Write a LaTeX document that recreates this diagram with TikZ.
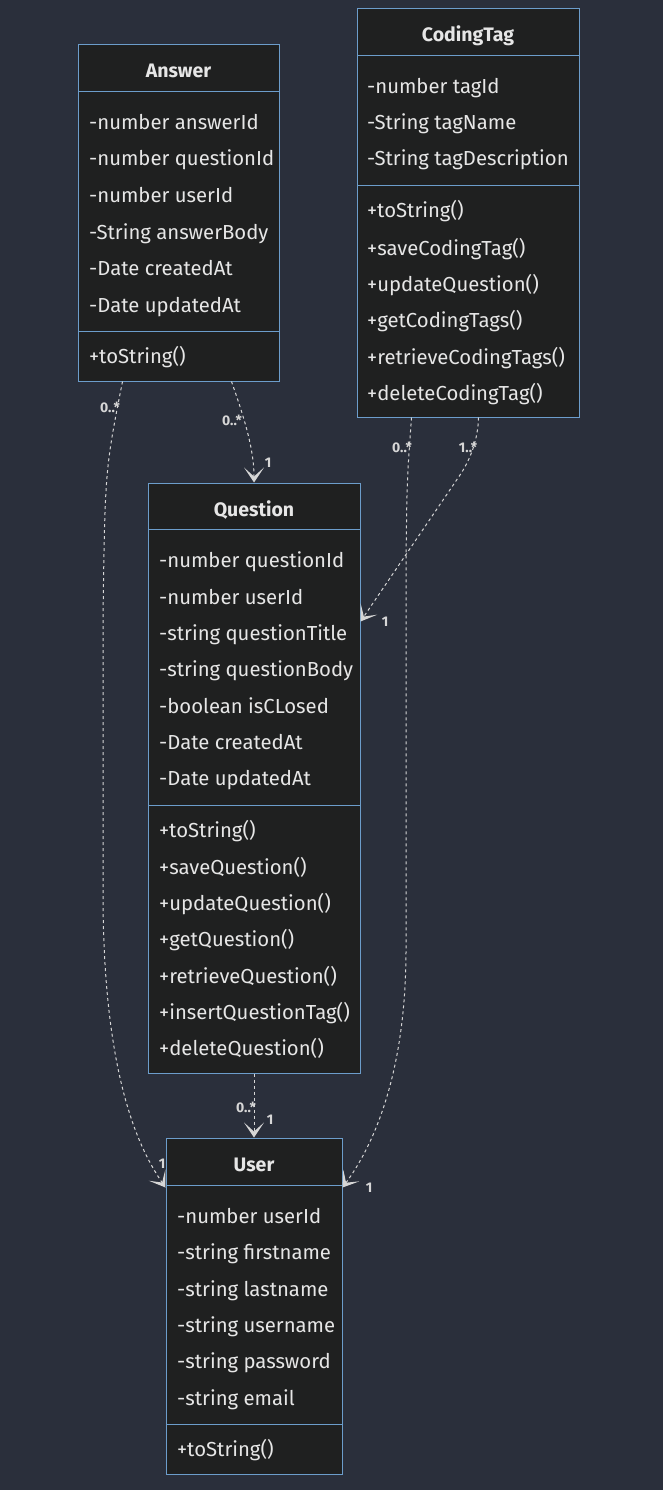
\documentclass[tikz,border=0pt]{standalone}
\usepackage{fontspec}
\setmainfont{Fira Sans}
\usetikzlibrary{arrows.meta}
\definecolor{bg}{HTML}{2A2F3B}
\definecolor{boxfill}{HTML}{1F2020}
\definecolor{boxline}{HTML}{6C9DCB}
\definecolor{txt}{HTML}{E6E6E6}
\definecolor{lnk}{HTML}{D6D6D6}
\tikzset{
  classbox/.style={draw=boxline, fill=boxfill, line width=1pt, rectangle, inner sep=0pt},
  divider/.style={draw=boxline, line width=1pt},
  title/.style={text=txt, font=\fontsize{19.5pt}{22pt}\selectfont\bfseries, anchor=center, inner sep=0pt, text height=14pt, text depth=0pt},
  member/.style={text=txt, font=\fontsize{20.3pt}{23pt}\selectfont, anchor=west, inner sep=0pt, text height=14pt, text depth=0pt},
  mult/.style={text=lnk, font=\fontsize{14pt}{16pt}\selectfont\bfseries, inner sep=0pt},
  link/.style={draw=lnk, line width=1pt, dash pattern=on 3pt off 3pt, -{Stealth[length=15pt,width=20pt,inset=9pt,line width=0pt]}}
}
\begin{document}
\begin{tikzpicture}[x=1pt,y=-1pt]
\useasboundingbox[fill=bg] (0,0) rectangle (663,1490);
% ---------- Answer ----------
\node[classbox, minimum width=201pt, minimum height=336pt] (answer) at (178.5,213) {};
\draw[divider] (78,92) -- (279,92);
\draw[divider] (78,331) -- (279,331);
\node[title] (answerT) at (178.5,71) {Answer};
\node[member] (a1) at (89,123) {-number answerId};
\node[member] (a2) at (89,159) {-number questionId};
\node[member] (a3) at (89,196) {-number userId};
\node[member] (a4) at (89,232) {-String answerBody};
\node[member] (a5) at (89,268) {-Date createdAt};
\node[member] (a6) at (89,305) {-Date updatedAt};
\node[member] (a7) at (89,356) {+toString()};
% ---------- CodingTag ----------
\node[classbox, minimum width=222pt, minimum height=408pt] (coding) at (468,213) {};
\draw[divider] (357,56) -- (579,56);
\draw[divider] (357,186) -- (579,186);
\node[title] (codingT) at (468,35) {CodingTag};
\node[member] (c1) at (367,87) {-number tagId};
\node[member] (c2) at (367,123) {-String tagName};
\node[member] (c3) at (367,159) {-String tagDescription};
\node[member] (c4) at (367,211) {+toString()};
\node[member] (c5) at (367,248) {+saveCodingTag()};
\node[member] (c6) at (367,284) {+updateQuestion()};
\node[member] (c7) at (367,320) {+getCodingTags()};
\node[member] (c8) at (367,357) {+retrieveCodingTags()};
\node[member] (c9) at (367,393) {+deleteCodingTag()};
% ---------- Question ----------
\node[classbox, minimum width=212pt, minimum height=590pt] (question) at (254,778) {};
\draw[divider] (148,529) -- (360,529);
\draw[divider] (148,805) -- (360,805);
\node[title] (questionT) at (254,509) {Question};
\node[member] (q1) at (159,560) {-number questionId};
\node[member] (q2) at (159,597) {-number userId};
\node[member] (q3) at (159,633) {-string questionTitle};
\node[member] (q4) at (159,669) {-string questionBody};
\node[member] (q5) at (159,706) {-boolean isCLosed};
\node[member] (q6) at (159,742) {-Date createdAt};
\node[member] (q7) at (159,778) {-Date updatedAt};
\node[member] (q8) at (159,830) {+toString()};
\node[member] (q9) at (159,867) {+saveQuestion()};
\node[member] (q10) at (159,903) {+updateQuestion()};
\node[member] (q11) at (159,939) {+getQuestion()};
\node[member] (q12) at (159,976) {+retrieveQuestion()};
\node[member] (q13) at (159,1012) {+insertQuestionTag()};
\node[member] (q14) at (159,1048) {+deleteQuestion()};
% ---------- User ----------
\node[mult] (m9) at (162,1164) {1};
\node[classbox, minimum width=176pt, minimum height=336pt] (user) at (254,1306) {};
\draw[divider] (166,1185) -- (342,1185);
\draw[divider] (166,1424) -- (342,1424);
\node[title] (userT) at (254,1164) {User};
\node[member] (u1) at (177,1216) {-number userId};
\node[member] (u2) at (177,1252) {-string firstname};
\node[member] (u3) at (177,1289) {-string lastname};
\node[member] (u4) at (177,1325) {-string username};
\node[member] (u5) at (177,1361) {-string password};
\node[member] (u6) at (177,1398) {-string email};
\node[member] (u7) at (177,1449) {+toString()};
% ---------- Connectors ----------
\draw[link] ([xshift=45pt]answer.south west) .. controls (105,470) .. (103,620) -- (103,900)
  .. controls (104,1080) and (140,1150) .. ([yshift=-50pt]user.north west);
\draw[link] ([xshift=154pt]answer.south west) .. controls (245,420) and (254,450) .. (question.north);
\draw[link] ([xshift=55pt]coding.south west) .. controls (407,480) .. (406,560) -- (406,950)
  .. controls (406,1080) and (370,1150) .. ([yshift=-50pt]user.north east);
\draw[link] ([xshift=122pt]coding.south west) .. controls (478,440) and (470,460) .. (460,475)
  -- ([yshift=-139pt]question.north east);
\draw[link] (question.south) -- (user.north);
% ---------- Multiplicities ----------
\node[mult] (m1) at (110,407) {0..*};
\node[mult] (m2) at (232,420) {0..*};
\node[mult] (m3) at (268,463) {1};
\node[mult] (m4) at (402,447) {0..*};
\node[mult] (m5) at (468,447) {1..*};
\node[mult] (m6) at (385,622) {1};
\node[mult] (m7) at (246,1107) {0..*};
\node[mult] (m8) at (270,1120) {1};
\node[mult] (m10) at (369,1188) {1};
\end{tikzpicture}
\end{document}
